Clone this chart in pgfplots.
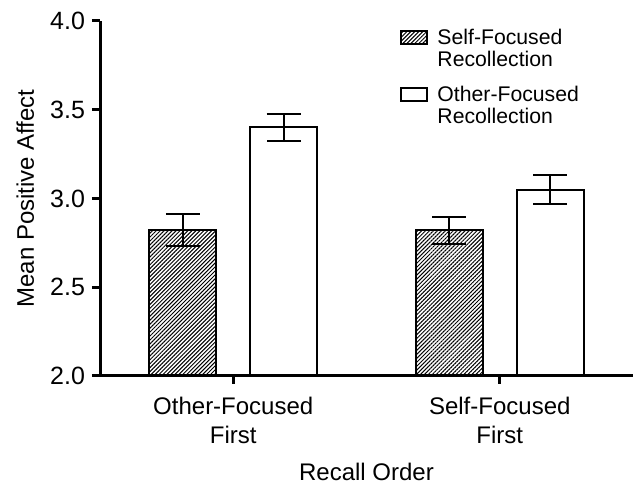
\documentclass[border=0pt]{standalone}
\usepackage{fontspec}
\setmainfont{Liberation Sans}
\usepackage{pgfplots}
\pgfplotsset{compat=1.18}
\usetikzlibrary{patterns.meta}
\begin{document}
\begin{tikzpicture}
\useasboundingbox (0,0) rectangle (317.5pt,243pt);
\begin{axis}[
  at={(50pt,55pt)}, anchor=south west,
  scale only axis, width=266.5pt, height=177.5pt,
  xmin=-0.5, xmax=1.5, ymin=2, ymax=4,
  axis lines*=left,
  axis line style={line width=1.5pt, -},
  axis on top,
  tick align=outside,
  major tick length=4pt,
  every tick/.style={line width=1.5pt, black},
  ytick={2,2.5,3,3.5,4},
  yticklabel style={font=\fontsize{12.5}{14}\selectfont, /pgf/number format/.cd, fixed, fixed zerofill, precision=1, assume math mode=true},
  xtick={0,1},
  xticklabels={Other-Focused\\First, Self-Focused\\First},
  xticklabel style={align=center, font=\fontsize{12}{14.5}\selectfont, yshift=-3pt},
  label style={font=\fontsize{12}{14}\selectfont},
  ylabel={Mean Positive Affect},
  ylabel style={at={(axis description cs:-0.14,0.5)}, anchor=center},
  xlabel={Recall Order},
  xlabel style={at={(axis description cs:0.5,-0.27)}, anchor=center},
  ybar,
  bar width=0.251,
  legend style={draw=none, fill=none, inner sep=0pt, at={(axis description cs:0.563,0.99)}, anchor=north west,
    font=\fontsize{10.6}{11}\selectfont, cells={anchor=west, align=left}, row sep=4.5pt},
  legend image code/.code={\draw[line width=1pt, #1] (0pt,2.5pt) rectangle (13pt,9pt); \path[draw=none, fill=none] (0pt,3pt) -- (16pt,3pt);},
]
\addplot[draw=black, line width=1pt, fill=white, pattern={Lines[angle=45,distance=1.4pt,line width=0.5pt]}, bar shift=-0.189,
  error bars/.cd, y dir=both, y explicit,
  error bar style={line width=1pt, black},
  error mark options={rotate=90, mark size=8.5pt, line width=1pt, black}]
  coordinates {(0,2.82) +- (0,0.09) (1,2.82) +- (0,0.075)};
\addlegendentry{Self-Focused\\Recollection}
\addplot[draw=black, line width=1pt, fill=white, bar shift=0.189,
  error bars/.cd, y dir=both, y explicit,
  error bar style={line width=1pt, black},
  error mark options={rotate=90, mark size=8.5pt, line width=1pt, black}]
  coordinates {(0,3.40) +- (0,0.075) (1,3.05) +- (0,0.08)};
\addlegendentry{Other-Focused\\Recollection}
\end{axis}
\end{tikzpicture}
\end{document}
